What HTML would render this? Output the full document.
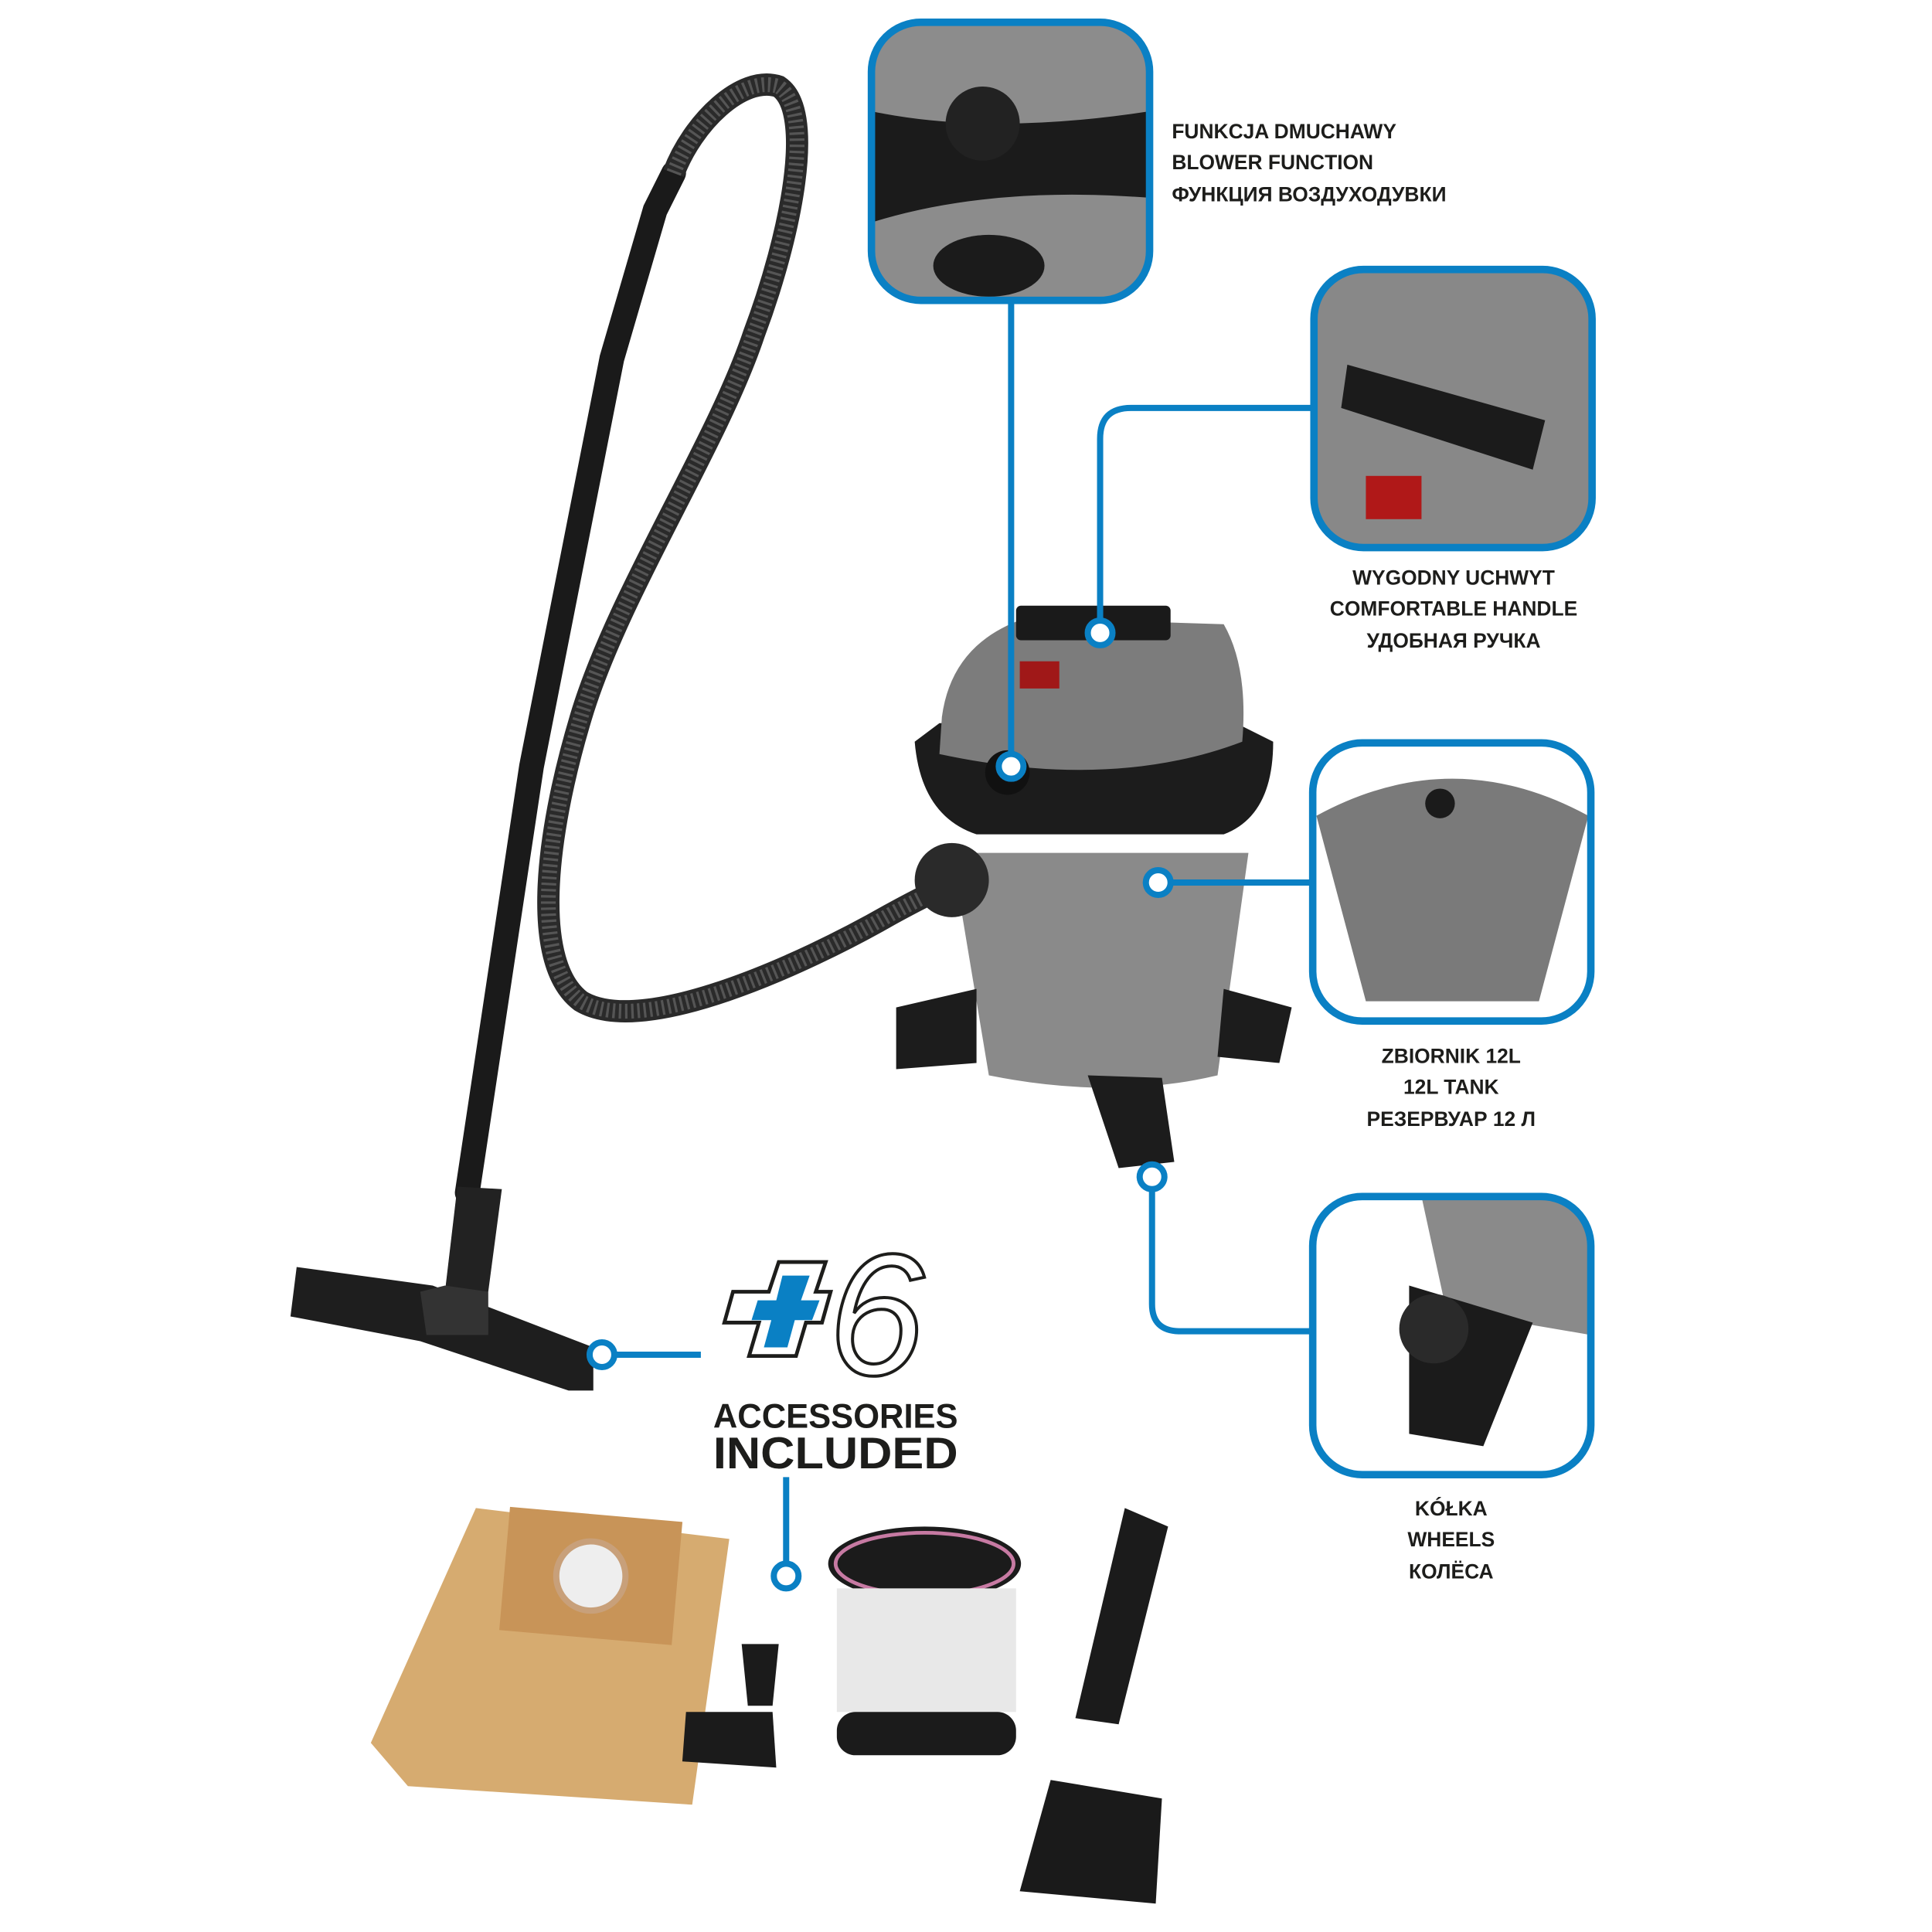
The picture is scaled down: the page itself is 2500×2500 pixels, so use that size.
<!DOCTYPE html>
<html><head><meta charset="utf-8"><style>
html,body{margin:0;padding:0;background:#fff}
svg{display:block}
text{font-family:"Liberation Sans","DejaVu Sans",sans-serif;font-weight:bold;fill:#1d1d1b}
</style></head><body>
<svg width="2500" height="2500" viewBox="0 0 1563 1563" xmlns="http://www.w3.org/2000/svg">
<defs>
<clipPath id="c1"><rect x="705" y="18" width="225" height="225" rx="40"/></clipPath>
<clipPath id="c2"><rect x="1063" y="218" width="225" height="225" rx="40"/></clipPath>
<clipPath id="c3"><rect x="1062" y="601" width="225" height="225" rx="40"/></clipPath>
<clipPath id="c4"><rect x="1062" y="968" width="225" height="225" rx="40"/></clipPath>
</defs>
<path d="M378 965 L430 620 L495 290 L530 170 L545 140" stroke="#1a1a1a" stroke-width="20" fill="none" stroke-linecap="round"/>
<path d="M370 960 L406 962 L395 1045 L360 1045Z" fill="#222"/>
<path d="M240 1025 L350 1040 L480 1090 L480 1125 L460 1125 L340 1085 L235 1065Z" fill="#1e1e1e"/>
<path d="M340 1045 L360 1040 L395 1045 L395 1080 L345 1080Z" fill="#333"/>
<path d="M545 140 C560 100 600 60 630 70 C660 90 640 190 610 270 C580 360 500 480 470 580 C440 680 430 780 470 810 C520 840 650 780 720 740 C760 718 790 705 810 700" stroke="#2a2a2a" stroke-width="18" fill="none"/>
<path d="M545 140 C560 100 600 60 630 70 C660 90 640 190 610 270 C580 360 500 480 470 580 C440 680 430 780 470 810 C520 840 650 780 720 740 C760 718 790 705 810 700" stroke="#555" stroke-width="12" fill="none" stroke-dasharray="2 3"/>
<path d="M770 690 L1010 690 L985 870 Q900 890 800 870Z" fill="#8a8a8a"/>
<path d="M740 600 Q745 660 790 675 L990 675 Q1030 660 1030 600 L1000 585 L760 585Z" fill="#1c1c1c"/>
<path d="M762 580 Q770 520 830 500 L990 505 Q1010 540 1005 600 Q900 640 760 610Z" fill="#7c7c7c"/>
<rect x="822" y="490" width="125" height="28" rx="4" fill="#1a1a1a"/>
<rect x="825" y="535" width="32" height="22" fill="#a01818"/>
<circle cx="815" cy="625" r="18" fill="#111"/>
<path d="M725 815 L790 800 L790 860 L725 865Z" fill="#1c1c1c"/>
<path d="M990 800 L1045 815 L1035 860 L985 855Z" fill="#1c1c1c"/>
<path d="M880 870 L940 872 L950 940 L905 945Z" fill="#1c1c1c"/>
<circle cx="770" cy="712" r="30" fill="#2a2a2a"/>
<g stroke="#0a80c4" stroke-width="5" fill="none">
<path d="M818 243 L818 620"/>
<path d="M1063 330 L915 330 Q890 330 890 355 L890 512"/>
<path d="M1062 714 L937 714"/>
<path d="M1062 1077 L955 1077 Q932 1077 932 1055 L932 952"/>
<path d="M487 1096 L567 1096"/>
<path d="M636 1195 L636 1275"/>
</g>
<g fill="#fff" stroke="#0a80c4" stroke-width="5">
<circle cx="818" cy="620" r="10"/><circle cx="890" cy="512" r="10"/><circle cx="937" cy="714" r="10"/>
<circle cx="932" cy="952" r="10"/><circle cx="487" cy="1096" r="10"/><circle cx="636" cy="1275" r="10"/>
</g>
<g clip-path="url(#c1)"><rect x="705" y="18" width="225" height="225" fill="#8c8c8c"/><path d="M705 90 Q800 110 930 90 L930 160 Q800 150 705 180Z" fill="#1b1b1b"/><circle cx="795" cy="100" r="30" fill="#222"/><ellipse cx="800" cy="215" rx="45" ry="25" fill="#1b1b1b"/></g>
<rect x="705" y="18" width="225" height="225" rx="40" fill="none" stroke="#0a80c4" stroke-width="6"/>
<g clip-path="url(#c2)"><rect x="1063" y="218" width="225" height="225" fill="#888"/><path d="M1090 295 L1250 340 L1240 380 L1085 330Z" fill="#1b1b1b"/><rect x="1105" y="385" width="45" height="35" fill="#b01818"/></g>
<rect x="1063" y="218" width="225" height="225" rx="40" fill="none" stroke="#0a80c4" stroke-width="6"/>
<g clip-path="url(#c3)"><rect x="1062" y="601" width="225" height="225" fill="#fff"/><path d="M1065 660 Q1175 600 1285 660 L1245 810 L1105 810Z" fill="#7a7a7a"/><circle cx="1165" cy="650" r="12" fill="#1b1b1b"/></g>
<rect x="1062" y="601" width="225" height="225" rx="40" fill="none" stroke="#0a80c4" stroke-width="6"/>
<g clip-path="url(#c4)"><rect x="1062" y="968" width="225" height="225" fill="#fff"/><path d="M1150 968 L1287 968 L1287 1080 L1170 1060Z" fill="#8a8a8a"/><path d="M1140 1040 L1240 1070 L1200 1170 L1140 1160Z" fill="#1b1b1b"/><circle cx="1160" cy="1075" r="28" fill="#2a2a2a"/></g>
<rect x="1062" y="968" width="225" height="225" rx="40" fill="none" stroke="#0a80c4" stroke-width="6"/>
<g font-size="16.5">
<text x="948" y="112">FUNKCJA DMUCHAWY</text>
<text x="948" y="137">BLOWER FUNCTION</text>
<text x="948" y="163">ФУНКЦИЯ ВОЗДУХОДУВКИ</text>
</g>
<g font-size="16.5" text-anchor="middle">
<text x="1176" y="473">WYGODNY UCHWYT</text>
<text x="1176" y="498">COMFORTABLE HANDLE</text>
<text x="1176" y="524">УДОБНАЯ РУЧКА</text>
<text x="1174" y="860">ZBIORNIK 12L</text>
<text x="1174" y="885">12L TANK</text>
<text x="1174" y="911">РЕЗЕРВУАР 12 Л</text>
<text x="1174" y="1226">KÓŁKA</text>
<text x="1174" y="1251">WHEELS</text>
<text x="1174" y="1277">КОЛЁСА</text>
</g>
<path d="M630 1021 L668 1021 L660 1045 L672 1045 L665 1070 L652 1070 L644 1097 L606 1097 L614 1070 L586 1070 L593 1045 L622 1045Z" fill="#fff" stroke="#1d1d1b" stroke-width="3"/>
<path d="M633 1032 L655 1032 L648 1052 L663 1052 L657 1068 L643 1068 L637 1090 L618 1090 L624 1068 L608 1068 L613 1052 L628 1052Z" fill="#0a80c4"/>
<text x="670" y="1112" font-size="140" font-style="italic" stroke="#1d1d1b" stroke-width="2.5" style="fill:#fff;font-weight:normal">6</text>
<text x="676" y="1155" font-size="28" text-anchor="middle" textLength="198" lengthAdjust="spacingAndGlyphs">ACCESSORIES</text>
<text x="676" y="1188" font-size="36" text-anchor="middle" textLength="198" lengthAdjust="spacingAndGlyphs">INCLUDED</text>
<path d="M300 1410 L385 1220 L590 1245 L560 1460 L330 1445Z" fill="#d6ab70"/>
<rect x="408" y="1225" width="140" height="100" fill="#c89458" transform="rotate(5 478 1275)"/>
<circle cx="478" cy="1275" r="28" fill="#eee" stroke="#c8a07a" stroke-width="5"/>
<path d="M600 1330 L630 1330 L625 1380 L605 1380Z" fill="#1b1b1b"/>
<path d="M555 1385 L625 1385 L628 1430 L552 1425Z" fill="#1b1b1b"/>
<ellipse cx="748" cy="1265" rx="78" ry="30" fill="#1b1b1b"/>
<ellipse cx="748" cy="1265" rx="72" ry="25" fill="none" stroke="#c77aa3" stroke-width="3"/>
<rect x="677" y="1285" width="145" height="100" fill="#e8e8e8"/>
<rect x="677" y="1385" width="145" height="35" rx="15" fill="#1b1b1b"/>
<path d="M910 1220 L945 1235 L905 1395 L870 1390Z" fill="#1b1b1b"/>
<path d="M850 1440 L940 1455 L935 1540 L825 1530Z" fill="#1a1a1a"/>
</svg>
</body></html>
